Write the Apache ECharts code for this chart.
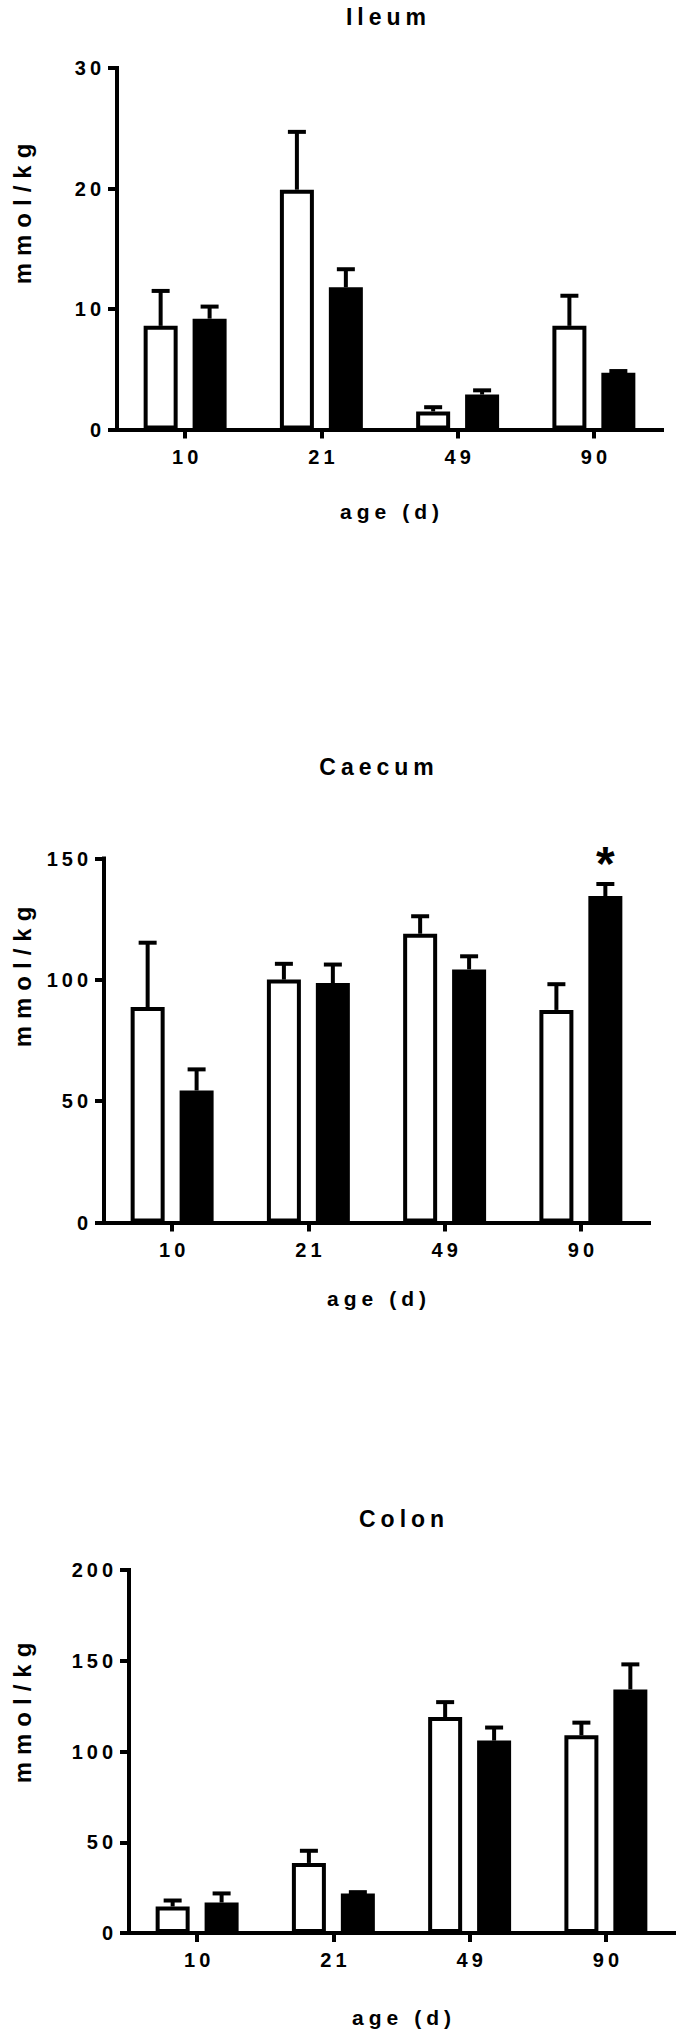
<!DOCTYPE html>
<html>
<head>
<meta charset="utf-8">
<script src="https://cdn.jsdelivr.net/npm/echarts@6/dist/echarts.min.js"></script>
<style>
html,body{margin:0;padding:0;background:#fff;}
#c{width:679px;height:2034px;}
</style>
</head>
<body>
<div id="c"></div>
<script>
// ---------- data ----------
const ages = ['10', '21', '49', '90'];

const ileumOpenMean   = [8.6, 19.9, 1.5, 8.6];
const ileumOpenErr    = [2.9, 4.8, 0.35, 2.5];
const ileumFilledMean = [9.2, 11.8, 2.9, 4.7];
const ileumFilledErr  = [1.0, 1.5, 0.35, 0.15];

const caecumOpenMean   = [88.8, 100.1, 119.0, 87.6];
const caecumOpenErr    = [26.5, 6.5, 7.2, 10.6];
const caecumFilledMean = [54.4, 98.7, 104.3, 134.5];
const caecumFilledErr  = [8.7, 7.6, 5.4, 5.0];
const caecumFilledSig  = ['', '', '', '*'];

const colonOpenMean   = [14.6, 38.6, 119.0, 108.9];
const colonOpenErr    = [3.3, 6.7, 8.2, 7.0];
const colonFilledMean = [16.8, 21.7, 106.0, 134.2];
const colonFilledErr  = [5.0, 0.8, 7.2, 13.8];

const yTicksIleum  = {max: 30,  interval: 10};
const yTicksCaecum = {max: 150, interval: 50};
const yTicksColon  = {max: 200, interval: 50};

const panelTitles = ['Ileum', 'Caecum', 'Colon'];
const yTitle = 'mmol/kg';
const xTitle = 'age (d)';

// ---------- styling / layout ----------
const FONT = "'Liberation Sans', Arial, sans-serif";
const BAR_W = 34, BAR_GAP = 0.44, BORDER = 4;
const BAR_OFFSET = BAR_W * (1 + BAR_GAP) / 2;
const STEM = 4, CAP = 18;

const grids = [
  {left: 117, top: 68,    width: 545, height: 361.5},
  {left: 104, top: 858.5, width: 545, height: 364},
  {left: 129, top: 1570,  width: 545, height: 363}
];
const nameGaps  = [71, 65, 74];
const titlePos  = [[386, 17], [376.5, 767], [401.5, 1519]];
const yTitlePos = [[22, 214], [22, 977], [22, 1713]];

const panels = [
  {open: ileumOpenMean, openErr: ileumOpenErr, filled: ileumFilledMean, filledErr: ileumFilledErr, ticks: yTicksIleum, sig: null},
  {open: caecumOpenMean, openErr: caecumOpenErr, filled: caecumFilledMean, filledErr: caecumFilledErr, ticks: yTicksCaecum, sig: caecumFilledSig},
  {open: colonOpenMean, openErr: colonOpenErr, filled: colonFilledMean, filledErr: colonFilledErr, ticks: yTicksColon, sig: null}
];

const labelStyle = {color: '#000', fontFamily: FONT, fontWeight: 'bold', fontSize: 20};

function errRender(sign) {
  return function (params, api) {
    const i = api.value(0), m = api.value(1), e = api.value(2);
    const p0 = api.coord([i, m]);
    const p1 = api.coord([i, m + e]);
    const x = p0[0] + sign * BAR_OFFSET;
    return {
      type: 'group',
      children: [
        {type: 'rect', shape: {x: x - STEM / 2, y: p1[1], width: STEM, height: Math.max(0, p0[1] - p1[1])}, style: {fill: '#000'}},
        {type: 'rect', shape: {x: x - CAP / 2, y: p1[1] - STEM / 2, width: CAP, height: STEM}, style: {fill: '#000'}}
      ]
    };
  };
}

function sigRender(sign) {
  return function (params, api) {
    const i = api.value(0), top = api.value(1);
    const p = api.coord([i, top]);
    return {
      type: 'text', x: p[0] + sign * BAR_OFFSET, y: p[1] - 20,
      style: {text: api.value(2), align: 'center', verticalAlign: 'middle',
              fontFamily: FONT, fontWeight: 'bold', fontSize: 48, fill: '#000'}
    };
  };
}

const option = {
  animation: false,
  backgroundColor: '#fff',
  grid: grids.map(g => Object.assign({containLabel: false}, g)),
  xAxis: grids.map((g, k) => ({
    gridIndex: k, type: 'category', data: ages, boundaryGap: true,
    axisLine: {show: true, onZero: false, lineStyle: {color: '#000', width: 4, cap: 'square'}},
    axisTick: {show: true, alignWithLabel: true, length: 9, lineStyle: {color: '#000', width: 4}},
    axisLabel: Object.assign({margin: 17}, labelStyle),
    splitLine: {show: false},
    name: xTitle, nameLocation: 'middle', nameGap: nameGaps[k],
    nameTextStyle: {color: '#000', fontFamily: FONT, fontWeight: 'bold', fontSize: 21}
  })),
  yAxis: panels.map((p, k) => ({
    gridIndex: k, type: 'value', min: 0, max: p.ticks.max, interval: p.ticks.interval,
    axisLine: {show: true, lineStyle: {color: '#000', width: 4, cap: 'square'}},
    axisTick: {show: true, length: 9, lineStyle: {color: '#000', width: 4}},
    axisLabel: Object.assign({margin: 16}, labelStyle),
    splitLine: {show: false}
  })),
  graphic: panelTitles.map((t, k) => ({
    type: 'text', x: titlePos[k][0], y: titlePos[k][1],
    style: {text: t, align: 'center', verticalAlign: 'middle',
            fontFamily: FONT, fontWeight: 'bold', fontSize: 23, fill: '#000'}
  })).concat(yTitlePos.map(pos => ({
    type: 'text', x: pos[0], y: pos[1], rotation: Math.PI / 2,
    style: {text: yTitle, align: 'center', verticalAlign: 'middle',
            fontFamily: FONT, fontWeight: 'bold', fontSize: 24, fill: '#000'}
  }))),
  series: []
};

panels.forEach((p, k) => {
  option.series.push({
    type: 'bar', name: 'open', xAxisIndex: k, yAxisIndex: k, data: p.open,
    barWidth: BAR_W, barGap: (BAR_GAP * 100) + '%',
    itemStyle: {color: '#fff', borderColor: '#000', borderWidth: BORDER}, z: 2
  });
  option.series.push({
    type: 'bar', name: 'filled', xAxisIndex: k, yAxisIndex: k, data: p.filled,
    barWidth: BAR_W, barGap: (BAR_GAP * 100) + '%',
    itemStyle: {color: '#000', borderColor: '#000', borderWidth: BORDER}, z: 2
  });
  option.series.push({
    type: 'custom', xAxisIndex: k, yAxisIndex: k, clip: false, z: 3,
    data: p.open.map((m, i) => [i, m, p.openErr[i]]),
    encode: {x: 0, y: 1}, renderItem: errRender(-1)
  });
  option.series.push({
    type: 'custom', xAxisIndex: k, yAxisIndex: k, clip: false, z: 3,
    data: p.filled.map((m, i) => [i, m, p.filledErr[i]]),
    encode: {x: 0, y: 1}, renderItem: errRender(1)
  });
  if (p.sig) {
    const sigData = [];
    p.sig.forEach((s, i) => { if (s) sigData.push([i, p.filled[i] + p.filledErr[i], s]); });
    option.series.push({
      type: 'custom', xAxisIndex: k, yAxisIndex: k, clip: false, z: 4,
      data: sigData, encode: {x: 0, y: 1},
      dimensions: ['cat', 'top', {name: 'mark', type: 'ordinal'}],
      renderItem: sigRender(1)
    });
  }
});

const chart = echarts.init(document.getElementById('c'), null, {renderer: 'svg', width: 679, height: 2034});
chart.setOption(option);

// Spread letters like the original figure. Each text is re-anchored at its start with a
// measured offset, so the spaced text keeps the same centre / right edge that ECharts chose.
const mctx = document.createElement('canvas').getContext('2d');
function spaceText() {
  document.querySelectorAll('#c svg text').forEach(t => {
    if (t.getAttribute('data-sp')) return;
    t.setAttribute('data-sp', '1');
    const s = t.textContent;
    let ls = 4;
    if (s === yTitle) ls = 7;
    else if (s === '*') ls = 0;
    else if (panelTitles.indexOf(s) >= 0) ls = 5;
    else if (s === xTitle) ls = 5;
    const chars = Array.from(s);
    if (!ls || chars.length < 2) return;
    const cs = getComputedStyle(t);
    mctx.font = cs.fontStyle + ' ' + cs.fontWeight + ' ' + cs.fontSize + ' ' + cs.fontFamily;
    const L = mctx.measureText(s).width + (chars.length - 1) * ls;
    const anchor = t.getAttribute('text-anchor') || 'start';
    const x0 = parseFloat(t.getAttribute('x') || '0') || 0;
    let off = 0;
    if (anchor === 'middle') off = -L / 2;
    else if (anchor === 'end') off = -L;
    t.setAttribute('text-anchor', 'start');
    t.setAttribute('x', (x0 + off).toFixed(2));
    t.setAttribute('dx', chars.map((c, i) => (i ? ls : 0)).join(' '));
  });
}
spaceText();
chart.on('finished', spaceText);
setTimeout(spaceText, 50);
</script>
</body>
</html>
